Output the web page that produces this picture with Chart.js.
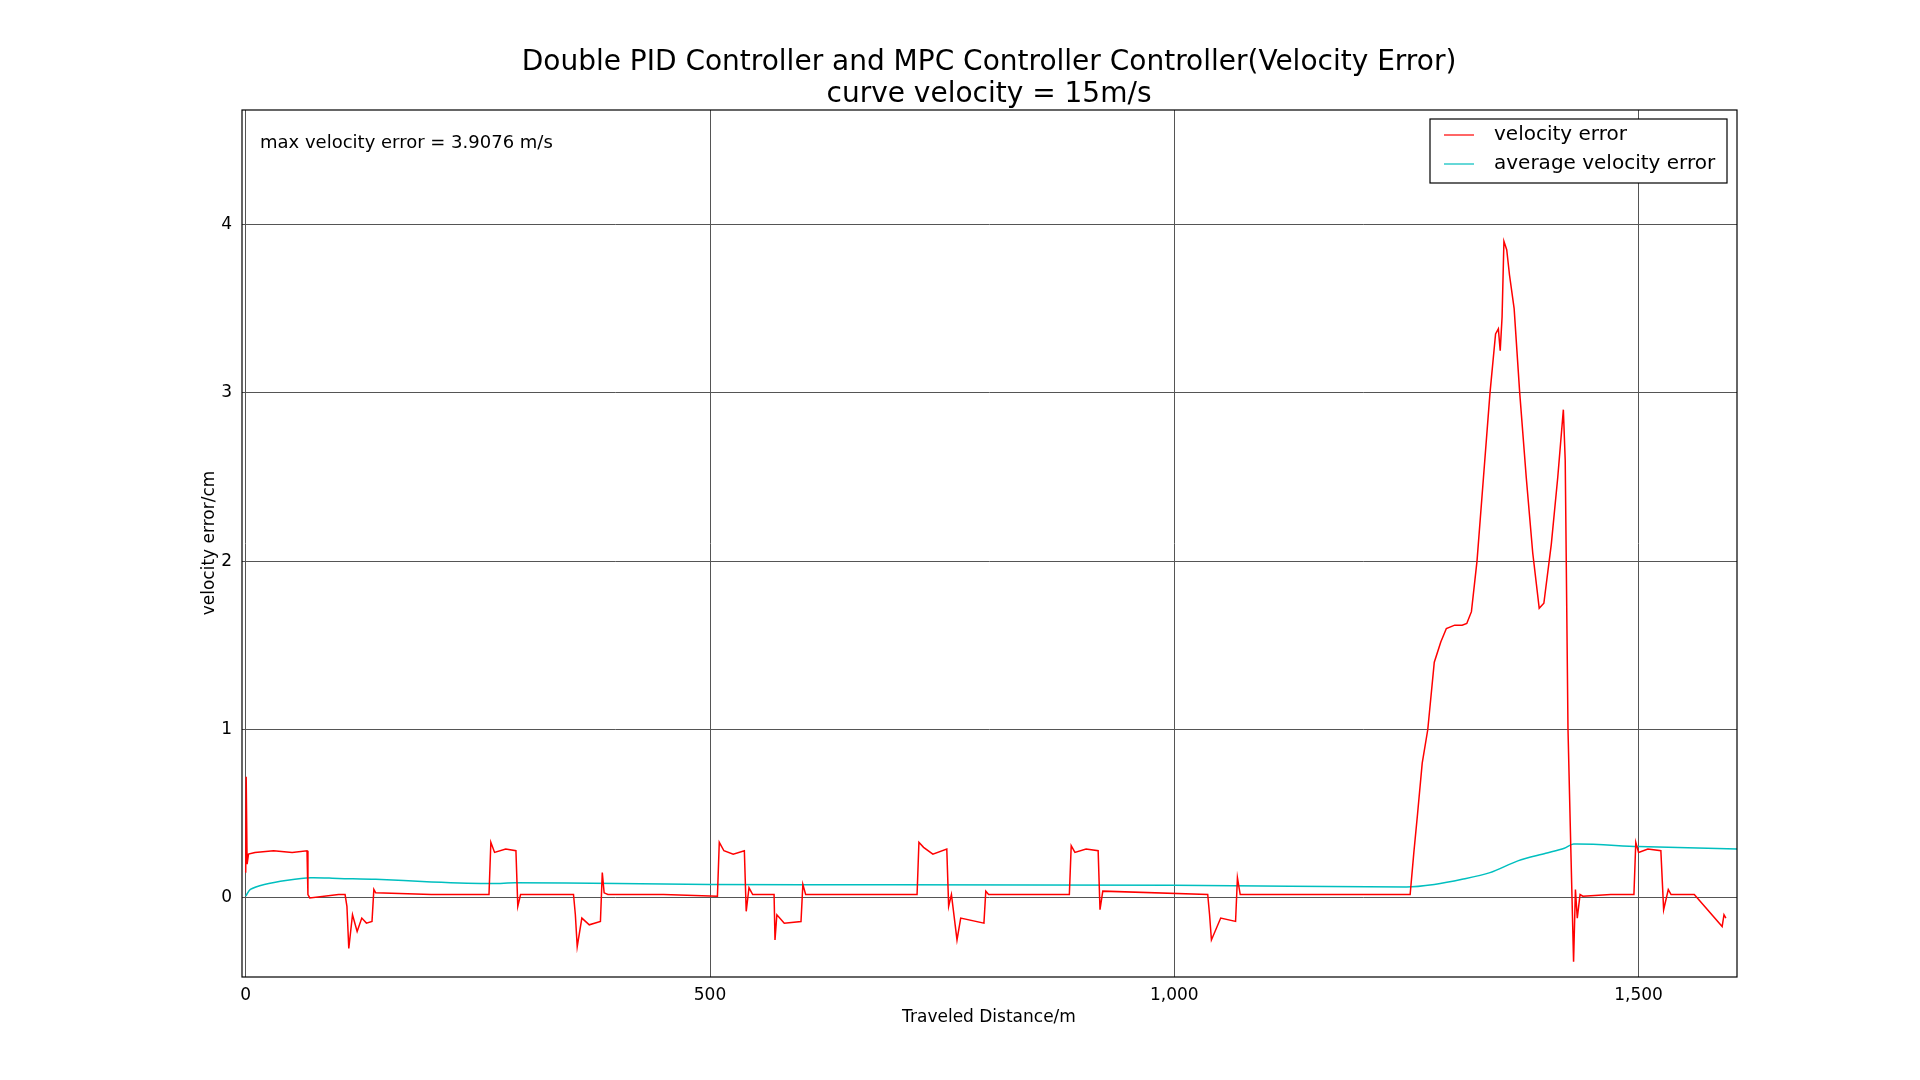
<!DOCTYPE html>
<html>
<head>
<meta charset="utf-8">
<script src="https://cdn.jsdelivr.net/npm/chart.js@4"></script>
<style>
  body { margin: 0; background: #fff; }
  #wrap { width: 1920px; height: 1080px; }
</style>
</head>
<body>
<div id="wrap"><canvas id="chart" width="1920" height="1080"></canvas></div>
<script>
// Data
const velX = [0, 0.5, 1.5, 3, 10, 30, 50, 66, 67, 69, 100, 107, 109, 111, 115, 120, 125, 130, 136, 138, 140, 200, 262, 264, 268, 280, 291, 293, 296, 300, 353, 355, 357, 362, 370, 382, 384, 386, 390, 450, 508, 510, 515, 525, 537, 539, 542, 546, 569, 570, 572, 580, 598, 600, 603, 660, 723, 725, 730, 740, 755, 757, 760, 766, 770, 795, 797, 800, 887, 889, 893, 905, 918, 920, 923, 1036, 1038, 1040, 1050, 1066, 1068, 1071, 1150, 1254, 1258, 1262, 1267, 1273, 1280, 1287, 1293, 1302, 1310, 1315, 1320, 1326, 1333, 1340, 1346, 1349, 1351, 1353, 1355, 1358, 1361, 1366, 1372, 1379, 1386, 1393, 1398, 1406, 1413, 1419, 1421, 1424, 1427, 1430, 1432, 1434, 1437, 1440, 1470, 1495, 1497, 1500, 1510, 1524, 1527, 1532, 1535, 1560, 1590, 1592, 1594, 1606];
const velY = [0.15, 0.72, 0.2, 0.26, 0.27, 0.28, 0.27, 0.28, 0.02, 0.0, 0.02, 0.02, -0.05, -0.3, -0.1, -0.2, -0.12, -0.15, -0.14, 0.05, 0.03, 0.02, 0.02, 0.33, 0.27, 0.29, 0.28, -0.05, 0.02, 0.02, 0.02, -0.1, -0.29, -0.12, -0.16, -0.14, 0.15, 0.03, 0.02, 0.02, 0.01, 0.33, 0.28, 0.26, 0.28, -0.08, 0.06, 0.02, 0.02, -0.25, -0.1, -0.15, -0.14, 0.08, 0.02, 0.02, 0.02, 0.33, 0.3, 0.26, 0.29, -0.05, 0.02, -0.25, -0.12, -0.15, 0.04, 0.02, 0.02, 0.31, 0.27, 0.29, 0.28, -0.07, 0.04, 0.02, -0.1, -0.25, -0.12, -0.14, 0.12, 0.02, 0.02, 0.02, 0.27, 0.5, 0.8, 1.0, 1.4, 1.52, 1.6, 1.62, 1.62, 1.63, 1.7, 2.0, 2.5, 3.0, 3.35, 3.38, 3.25, 3.45, 3.9, 3.85, 3.7, 3.5, 3.0, 2.5, 2.05, 1.72, 1.75, 2.1, 2.5, 2.9, 2.6, 1.0, 0.3, -0.38, 0.05, -0.12, 0.02, 0.01, 0.02, 0.02, 0.33, 0.27, 0.29, 0.28, -0.07, 0.05, 0.02, 0.02, -0.17, -0.1, -0.12];
const avgX = [0, 5, 20, 45, 70, 100, 140, 200, 265, 290, 400, 500, 700, 1000, 1250, 1280, 1310, 1340, 1370, 1400, 1420, 1430, 1500, 1606];
const avgY = [0.01, 0.05, 0.08, 0.105, 0.12, 0.115, 0.11, 0.095, 0.085, 0.09, 0.085, 0.08, 0.078, 0.075, 0.065, 0.08, 0.11, 0.15, 0.22, 0.265, 0.295, 0.32, 0.305, 0.29];
const xTicks = [0, 500, 1000, 1500];
const yTicks = [0, 1, 2, 3, 4];

const FONT = "'DejaVu Sans', sans-serif";
const toPts = (xs, ys) => xs.map((x, i) => ({ x: x, y: ys[i] }));

// Title, axis labels, box, legend, annotation
const decor = {
    id: "decor",
    afterDraw(chart) {
        const { ctx, chartArea: a } = chart;
        ctx.save();
        ctx.strokeStyle = "#000";
        ctx.lineWidth = 1.2;
        ctx.strokeRect(a.left, a.top, a.right - a.left, a.bottom - a.top);

        ctx.fillStyle = "#000";
        ctx.textAlign = "center";
        ctx.textBaseline = "alphabetic";
        ctx.font = "28px " + FONT;
        ctx.fillText("Double PID Controller and MPC Controller Controller(Velocity Error)", 989, 70);
        ctx.fillText("curve velocity = 15m/s", 989, 102);

        ctx.font = "17px " + FONT;
        ctx.fillText("Traveled Distance/m", 989, 1022);
        ctx.save();
        ctx.translate(214, 543);
        ctx.rotate(-Math.PI / 2);
        ctx.fillText("velocity error/cm", 0, 0);
        ctx.restore();

        ctx.textAlign = "left";
        ctx.font = "18px " + FONT;
        ctx.fillText("max velocity error = 3.9076 m/s", 260, 148);

        // legend box
        const lx = 1430, ly = 119, lw = 297, lh = 64;
        ctx.fillStyle = "#fff";
        ctx.fillRect(lx, ly, lw, lh);
        ctx.strokeRect(lx, ly, lw, lh);
        const items = [["velocity error", "#ff0000"], ["average velocity error", "#00bfbf"]];
        items.forEach((it, i) => {
            const yy = ly + 16 + i * 29;
            ctx.strokeStyle = it[1];
            ctx.lineWidth = 1.2;
            ctx.beginPath();
            ctx.moveTo(lx + 14, yy);
            ctx.lineTo(lx + 44, yy);
            ctx.stroke();
            ctx.fillStyle = "#000";
            ctx.font = "20px " + FONT;
            ctx.textBaseline = "middle";
            ctx.fillText(it[0], lx + 64, yy);
        });
        ctx.restore();
    }
};

new Chart(document.getElementById("chart"), {
    type: "line",
    data: {
        datasets: [
            {
                label: "velocity error",
                data: toPts(velX, velY),
                borderColor: "#ff0000",
                borderWidth: 1.5,
                pointRadius: 0,
                tension: 0
            },
            {
                label: "average velocity error",
                data: toPts(avgX, avgY),
                borderColor: "#00bfbf",
                borderWidth: 1.5,
                pointRadius: 0,
                tension: 0.3
            }
        ]
    },
    options: {
        responsive: false,
        animation: false,
        layout: { padding: { left: 182, right: 183, top: 110, bottom: 33 } },
        plugins: { legend: { display: false }, title: { display: false }, tooltip: { enabled: false } },
        scales: {
            x: {
                type: "linear",
                min: -4,
                max: 1606,
                afterBuildTicks: s => { s.ticks = xTicks.map(v => ({ value: v })); },
                afterFit: s => { s.height = 70; },
                grid: { color: "#555", borderDash: [2, 4], drawTicks: false },
                border: { display: false },
                ticks: { color: "#000", font: { family: FONT, size: 17 }, padding: 8 }
            },
            y: {
                type: "linear",
                min: -0.47,
                max: 4.68,
                afterBuildTicks: s => { s.ticks = yTicks.map(v => ({ value: v })); },
                afterFit: s => { s.width = 60; },
                grid: { color: "#555", borderDash: [2, 4], drawTicks: false },
                border: { display: false },
                ticks: { color: "#000", font: { family: FONT, size: 17 }, padding: 10 }
            }
        }
    },
    plugins: [decor]
});
</script>
</body>
</html>
